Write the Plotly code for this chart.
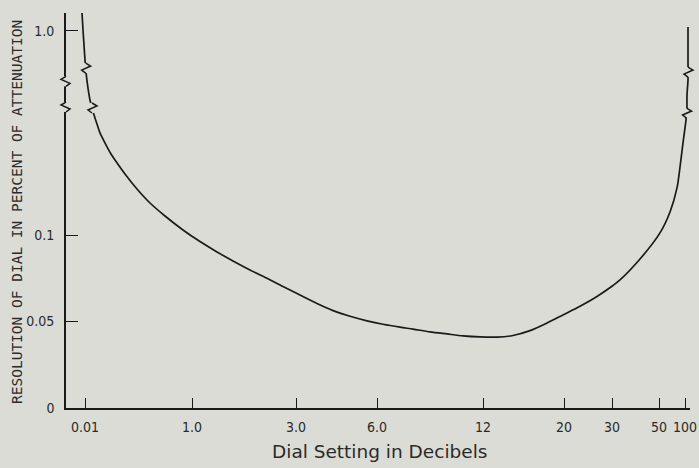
import numpy as np
import plotly.graph_objects as go

# ---------------- data ----------------
# x axis: dial position (arbitrary dial units); tick labels give dB
x_tick_pos = [19, 126, 230, 311, 417, 498, 546, 593, 619]
x_tick_labels = ["0.01", "1.0", "3.0", "6.0", "12", "20", "30", "50", "100"]

# lower (unbroken) part of curve: resolution in percent of attenuation
x_low = [26, 29, 32, 34, 38, 41, 45, 49, 59, 71, 84, 99, 117, 134, 151, 167, 184, 201,
         217, 234, 251, 267, 284, 301, 317, 334, 347, 364, 381, 397, 414, 431, 447,
         464, 481, 497, 514, 531, 547, 554, 574, 594, 604, 611, 614, 617, 620, 621]
y_low = [0.1734, 0.1676, 0.1624, 0.1590, 0.1543, 0.1509, 0.1468, 0.1434, 0.1353, 0.1266,
         0.1185, 0.1110, 0.1029, 0.0962, 0.0902, 0.0850, 0.0798, 0.0750, 0.0702, 0.0653,
         0.0604, 0.0563, 0.0530, 0.0504, 0.0484, 0.0467, 0.0456, 0.0440, 0.0428, 0.0417,
         0.0411, 0.0410, 0.0419, 0.0447, 0.0491, 0.0538, 0.0588, 0.0645, 0.0708, 0.0740,
         0.0861, 0.1012, 0.1133, 0.1272, 0.1393, 0.1532, 0.1665, 0.1734]

# upper (broken-scale) parts of curve
x_up_left = [26, 24, 22, 20, 19, 18, 17, 16]
y_up_left = [0.13, 0.22, 0.355, 0.535, 0.67, 0.84, 1.008, 1.2]
x_up_right = [621, 621, 622, 622, 622, 622]
y_up_right = [0.13, 0.276, 0.445, 0.67, 0.896, 1.042]

y_low_ticks = [0, 0.05, 0.1]
y_low_labels = ["0", "0.05", "0.1"]
y_up_ticks = [1.0]
y_up_labels = ["1.0"]

# break-mark locations
curve_breaks_upper = [(x_up_left, y_up_left, 0.58), (x_up_right, y_up_right, 0.535)]
curve_breaks_lower_right = 0.1705
axis_breaks = [0.43, 0.141]

# ---------------- layout constants ----------------
BG = "#dcdcd6"
INK = "#1a1a1a"
W, H = 699, 468
ML, MR, MT, MB = 66, 9, 13, 60
PW, PH = W - ML - MR, H - MT - MB
XR = [0, 624]
SPLIT = 300 / 395
YR_LOW = [0, 0.17341]
YR_UP = [0.13, 1.2]


def xpaper(v):
    return (v - XR[0]) / (XR[1] - XR[0])


def ypaper_low(v):
    return (v - YR_LOW[0]) / (YR_LOW[1] - YR_LOW[0]) * SPLIT


def ypaper_up(v):
    return SPLIT + (v - YR_UP[0]) / (YR_UP[1] - YR_UP[0]) * (1 - SPLIT)


def zigzag(cx, cy, mirror=False):
    s = -1 if mirror else 1
    pts = [(0, 5), (5 * s, 2), (-4 * s, -2), (0, -5)]
    dx, dy = 1 / PW, 1 / PH
    path = "M " + " L ".join(f"{cx + a * dx},{cy + b * dy}" for a, b in pts)
    mask = dict(type="rect", xref="paper", yref="paper",
                x0=cx - 3.5 * dx, x1=cx + 3.5 * dx, y0=cy - 5 * dy, y1=cy + 5 * dy,
                fillcolor=BG, line=dict(width=0), layer="above")
    zz = dict(type="path", xref="paper", yref="paper", path=path,
              line=dict(color=INK, width=1.5), layer="above")
    return [mask, zz]


fig = go.Figure()
line = dict(color=INK, width=1.7, shape="spline", smoothing=0.8)
fig.add_trace(go.Scatter(x=x_low, y=y_low, mode="lines", line=line, yaxis="y",
                         showlegend=False, hoverinfo="skip"))
fig.add_trace(go.Scatter(x=x_up_left, y=y_up_left, mode="lines", line=line, yaxis="y2",
                         showlegend=False, hoverinfo="skip"))
fig.add_trace(go.Scatter(x=x_up_right, y=y_up_right, mode="lines", line=line, yaxis="y2",
                         showlegend=False, hoverinfo="skip"))

shapes = []
shapes += zigzag(xpaper(x_up_left[0]), SPLIT)
xr_low = float(np.interp(curve_breaks_lower_right, y_low[-8:], x_low[-8:]))
shapes += zigzag(xpaper(xr_low), ypaper_low(curve_breaks_lower_right))
for xs, ys, v in curve_breaks_upper:
    xv = float(np.interp(v, ys, xs))
    shapes += zigzag(xpaper(xv), ypaper_up(v))
for v in axis_breaks:
    shapes += zigzag(0, ypaper_up(v), mirror=True)

tickfont = dict(family="DejaVu Sans Condensed, Liberation Sans Narrow, sans-serif",
                size=14, color="#2a2a2a")

axis_common = dict(ticks="inside", tickwidth=1.3, tickcolor=INK,
                   showline=True, linecolor=INK, linewidth=1.6,
                   showgrid=False, zeroline=False, tickfont=tickfont, automargin=False)

fig.update_layout(
    width=W, height=H,
    margin=dict(l=ML, r=MR, t=MT, b=MB, autoexpand=False),
    paper_bgcolor=BG, plot_bgcolor=BG,
    shapes=shapes,
    xaxis=dict(range=XR, tickvals=x_tick_pos, ticktext=x_tick_labels, ticklen=10,
               ticklabelstandoff=5, **axis_common),
    yaxis=dict(domain=[0, SPLIT], range=YR_LOW, tickvals=y_low_ticks, ticktext=y_low_labels,
               ticklen=12, anchor="x", ticklabelstandoff=7, **axis_common),
    yaxis2=dict(domain=[SPLIT, 1], range=YR_UP, tickvals=y_up_ticks, ticktext=y_up_labels,
                ticklen=12, anchor="x", ticklabelstandoff=7, **axis_common),
    annotations=[
        dict(text="RESOLUTION OF DIAL IN PERCENT OF ATTENUATION", xref="paper", yref="paper",
             x=(17 - ML) / PW, y=(408 - 212) / PH, textangle=-90, showarrow=False,
             xanchor="center", yanchor="middle",
             font=dict(family="DejaVu Sans Mono, monospace", size=14.5, color="#2a2a2a")),
        dict(text="Dial Setting in Decibels", xref="paper", yref="paper",
             x=(379 - ML) / PW, y=(408 - 452) / PH, showarrow=False,
             xanchor="center", yanchor="middle",
             font=dict(family="DejaVu Sans, sans-serif", size=18.5, color="#2a2a2a")),
    ],
)

fig.write_html(
    "out.html",
    config={"displayModeBar": False},
    post_script="document.body.style.margin='0';document.body.style.background='%s';" % BG,
)
